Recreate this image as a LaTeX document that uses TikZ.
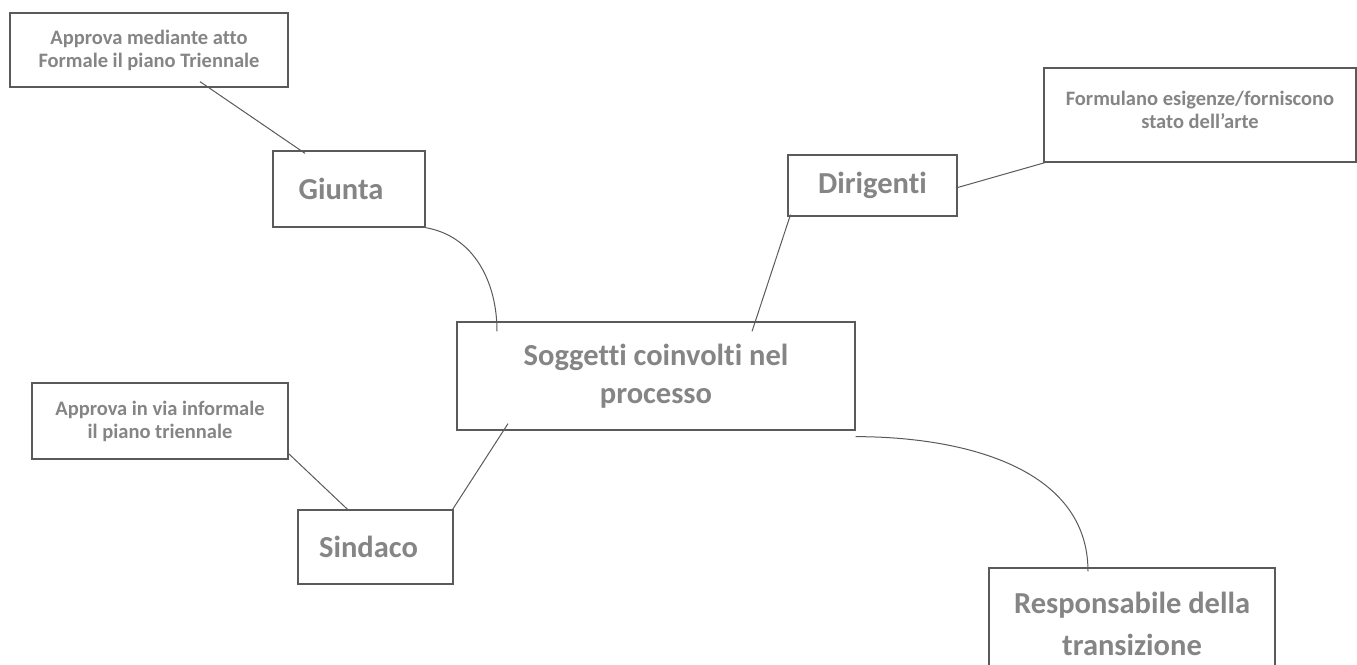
\documentclass[tikz,border=0pt]{standalone}
\usepackage{fontspec}
\setmainfont[Ligatures={NoCommon}]{Carlito}
\definecolor{boxline}{HTML}{5A5A5A}
\definecolor{txt}{HTML}{858585}
\begin{document}
\begin{tikzpicture}[x=1pt,y=-1pt,
  bx/.style={draw=boxline, line width=1.3pt, inner sep=0pt, align=center, text=txt, font=\bfseries},
  small/.style={font=\bfseries\fontsize{20.5}{23}\selectfont},
  big/.style={font=\bfseries\fontsize{30.5}{38}\selectfont},
  conn/.style={draw=boxline, line width=1pt}]
\useasboundingbox[fill=white] (0,0) rectangle (1357,664);
\node[bx, small, minimum width=278pt, minimum height=74pt] (a1) at (149,50) {\rule{0pt}{6pt}Approva mediante atto\\Formale il piano Triennale};
\node[bx, big, minimum width=152pt, minimum height=76pt] (giunta) at (349,189) {Giunta\kern16pt};
\node[bx, big, minimum width=169pt, minimum height=61pt] (dir) at (872.5,185.5) {Dirigenti};
\node[bx, small, minimum width=312pt, minimum height=94pt] (form) at (1200,115) {Formulano esigenze/forniscono\\stato dell'arte\rule[-10pt]{0pt}{10pt}};
\node[bx, big, minimum width=398pt, minimum height=108pt] (center) at (656,376) {Soggetti coinvolti nel\\processo};
\node[bx, small, minimum width=256pt, minimum height=76pt] (b1) at (160,421) {Approva in via informale\\il piano triennale};
\node[bx, big, minimum width=155pt, minimum height=74pt] (sind) at (375.5,547) {Sindaco\kern14pt};
\node[bx, big, minimum width=286pt, minimum height=112pt] (resp) at (1132,624) {Responsabile della\\[4pt]transizione};
\draw[conn] ([xshift=51pt,yshift=6pt]a1.south) -- ([xshift=-44pt,yshift=-3pt]giunta.north);
\draw[conn] (giunta.south east) to[out=-10,in=90] ([xshift=-159pt,yshift=-10pt]center.north);
\draw[conn] ([xshift=-82pt,yshift=2pt]dir.south) -- ([xshift=96pt,yshift=-10pt]center.north);
\draw[conn] ([yshift=-2pt]dir.east) -- ([xshift=5pt,yshift=1pt]form.south west);
\draw[conn] ([xshift=-148pt,yshift=7pt]center.south) -- ([xshift=-1pt]sind.north east);
\draw[conn] ([yshift=6pt]b1.south east) -- ([xshift=-28pt]sind.north);
\draw[conn] ([yshift=-6pt]center.south east) to[out=0,in=90] ([xshift=-44pt,yshift=-4pt]resp.north);
\end{tikzpicture}
\end{document}
